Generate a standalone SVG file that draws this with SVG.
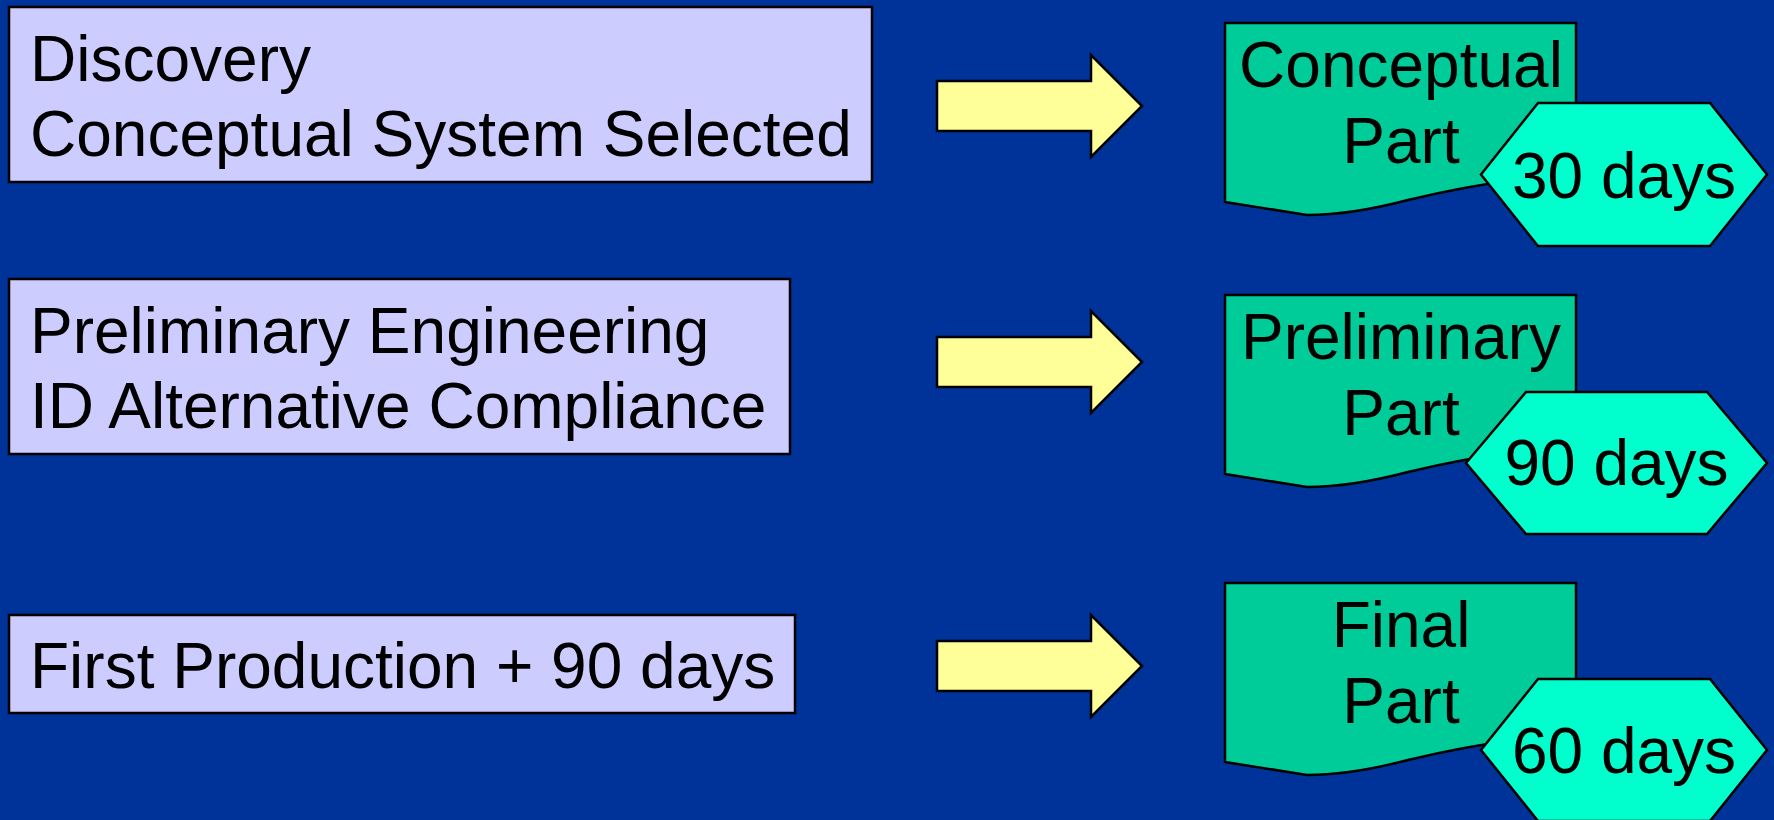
<svg xmlns="http://www.w3.org/2000/svg" width="1774" height="820" viewBox="0 0 1774 820">
  <style>
    text { font-family: "Liberation Sans", Arial, sans-serif; font-size: 64px; fill: #000; }
    .mid { text-anchor: middle; }
    .stage { fill: #CCCCFF; stroke: #000; stroke-width: 2.5; }
    .doc { fill: #00CC99; stroke: #000; stroke-width: 2.5; stroke-linejoin: round; }
    .hex { fill: #00FFCC; stroke: #000; stroke-width: 2.5; stroke-linejoin: miter; }
    .arrow { fill: #FFFF99; stroke: #000; stroke-width: 2.5; stroke-linejoin: miter; }
  </style>
  <defs>
    <!-- document shape with wavy bottom edge; placed per row with translate -->
    <path id="docShape" d="M1225,23 H1576 V172 C1500,180 1450,190 1408,200 C1370,210 1340,215 1307,215 L1225,202 Z"/>
    <!-- block arrow pointing right -->
    <path id="blockArrow" d="M937,81 H1091 V55 L1142,106 L1091,157 V131 H937 Z"/>
  </defs>

  <rect x="0" y="0" width="1774" height="820" fill="#003399"/>

  <!-- stages on the left -->
  <g id="stage-discovery">
    <rect class="stage" x="9" y="7" width="863" height="175"/>
    <text x="30" y="81">Discovery</text>
    <text x="30" y="156">Conceptual System Selected</text>
  </g>
  <g id="stage-preliminary">
    <rect class="stage" x="9" y="279" width="781" height="175"/>
    <text x="30" y="353">Preliminary Engineering</text>
    <text x="30" y="428">ID Alternative Compliance</text>
  </g>
  <g id="stage-production">
    <rect class="stage" x="9" y="615" width="786" height="98"/>
    <text x="30" y="688">First Production + 90 days</text>
  </g>

  <!-- arrows linking each stage to its part -->
  <g id="connectors">
    <use href="#blockArrow" class="arrow"/>
    <use href="#blockArrow" class="arrow" transform="translate(0,256)"/>
    <use href="#blockArrow" class="arrow" transform="translate(0,560)"/>
  </g>

  <!-- part documents -->
  <g id="part-conceptual">
    <use href="#docShape" class="doc"/>
    <text class="mid" x="1401" y="87">Conceptual</text>
    <text class="mid" x="1401" y="163">Part</text>
  </g>
  <g id="part-preliminary">
    <use href="#docShape" class="doc" transform="translate(0,272)"/>
    <text class="mid" x="1401" y="359">Preliminary</text>
    <text class="mid" x="1401" y="435">Part</text>
  </g>
  <g id="part-final">
    <use href="#docShape" class="doc" transform="translate(0,560)"/>
    <text class="mid" x="1401" y="647">Final</text>
    <text class="mid" x="1401" y="723">Part</text>
  </g>

  <!-- durations -->
  <g id="duration-30">
    <polygon class="hex" points="1481,174.5 1538,103 1710,103 1767,174.5 1710,246 1538,246"/>
    <text class="mid" x="1624" y="198">30 days</text>
  </g>
  <g id="duration-90">
    <polygon class="hex" points="1466,463 1526,392 1707,392 1767,463 1707,534 1526,534"/>
    <text class="mid" x="1616.5" y="485">90 days</text>
  </g>
  <g id="duration-60">
    <polygon class="hex" points="1481,750 1538,679 1710,679 1767,750 1710,821 1538,821"/>
    <text class="mid" x="1624" y="773">60 days</text>
  </g>
</svg>
